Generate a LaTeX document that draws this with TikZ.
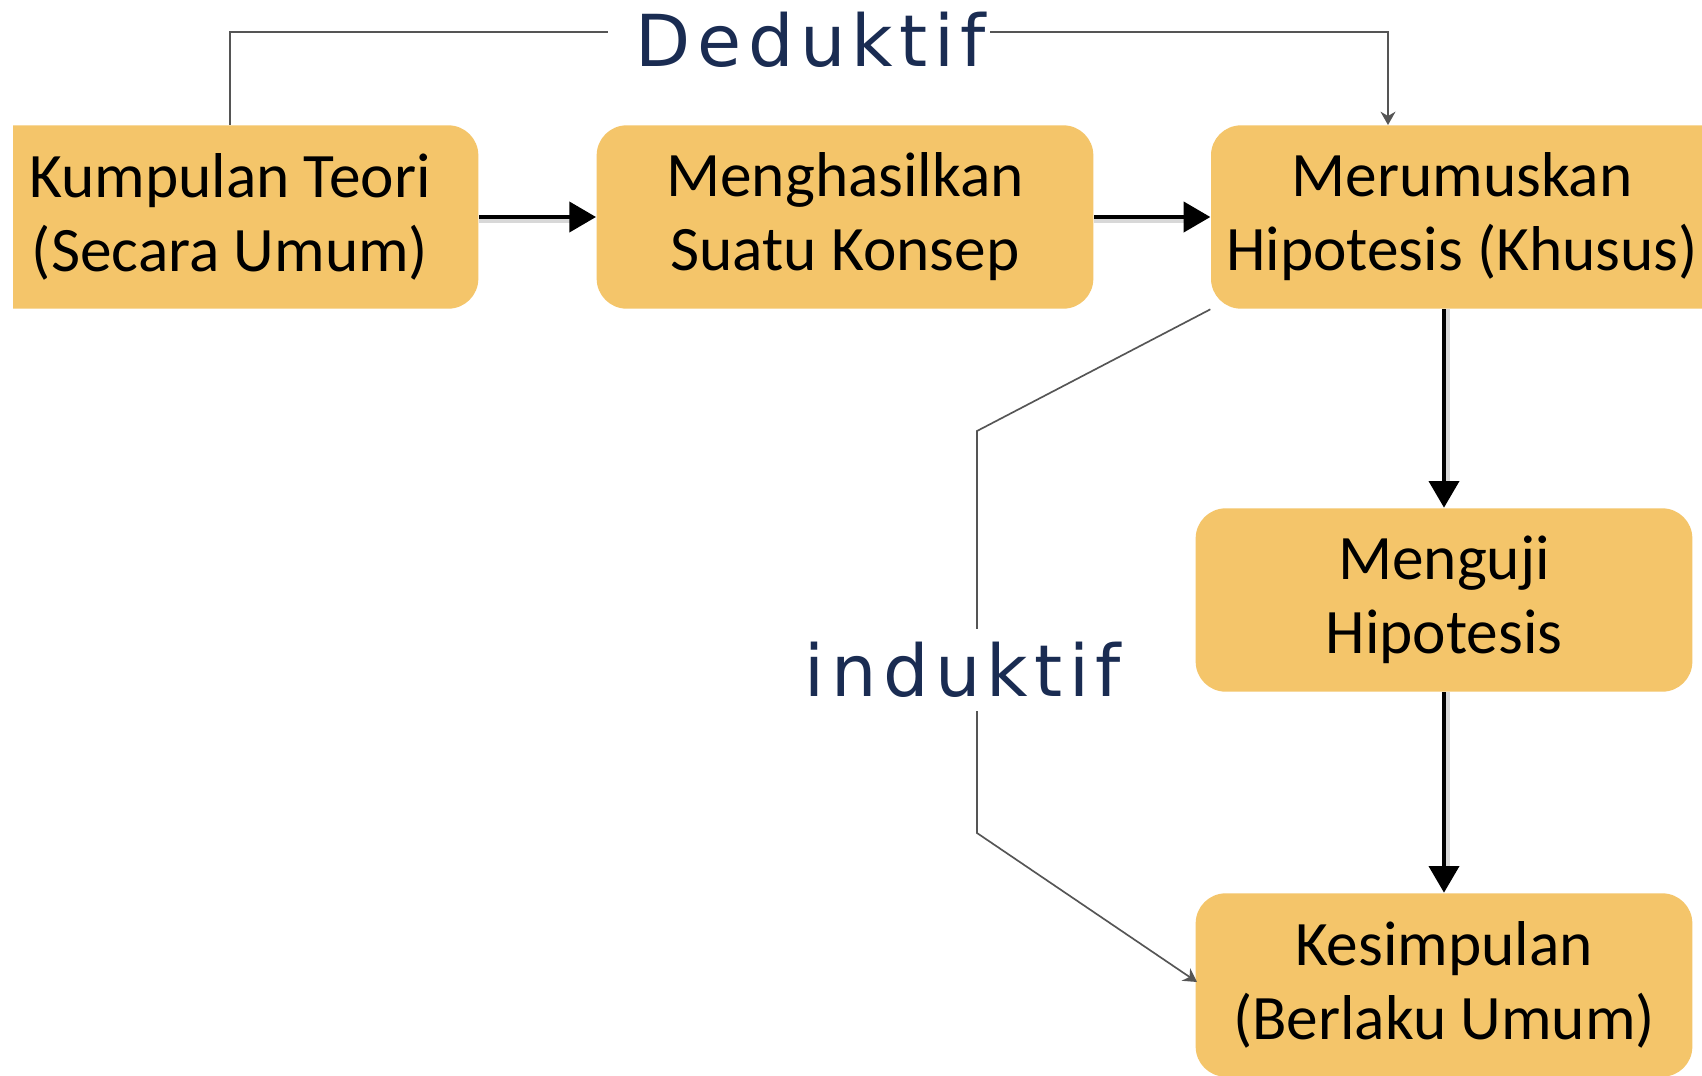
\documentclass[tikz,border=0pt]{standalone}
\usepackage{fontspec}
\usetikzlibrary{arrows.meta}
\newfontfamily\boxfont{Carlito}
\newfontfamily\labfont[LetterSpace=9]{DejaVu Sans}
\definecolor{boxfill}{HTML}{F4C56A}
\definecolor{labcol}{HTML}{1A2C52}
\definecolor{thinline}{HTML}{555555}
\tikzset{
  boxfont/.style={font=\boxfont\fontsize{19}{22.2}\selectfont, text=black},
  stepbox/.style={fill=boxfill, draw=none, rounded corners=9pt,
    minimum width=149pt, minimum height=55pt, align=center,
    boxfont, inner sep=0pt},
  boxtext/.style={align=center, boxfont, inner sep=0pt},
  mainarrow/.style={line width=1.2pt, -{Triangle[length=8pt,width=9pt]}},
  arrowshadow/.style={line width=1.4pt, draw=black!30, opacity=0.5},
  thinarrow/.style={draw=thinline, line width=0.5pt, -{Stealth[length=4pt,width=4.5pt]}},
  labtext/.style={font=\labfont\fontsize{21.5}{24}\selectfont, text=labcol, inner xsep=0pt}
}
\begin{document}
\begin{tikzpicture}[x=0.3pt,y=-0.3pt]
\useasboundingbox (0,0) rectangle (1702,1075);
\clip (0,0) rectangle (1702,1075);
\fill[white] (0,0) rectangle (1702,1075);

\begin{scope}
\clip (13,0) rectangle (1702,1075);
\node[stepbox] (b1) at (230,217) {Kumpulan Teori\\(Secara Umum)};
\end{scope}
\node[stepbox] (b2) at (845,217) {Menghasilkan\\Suatu Konsep};
\node[stepbox, minimum width=168pt] (b3) at (1491,217) {};
\node[boxtext] (b3t) at (1462,217) {Merumuskan\\Hipotesis (Khusus)};
\node[stepbox] (b4) at (1444,600) {Menguji\\Hipotesis};
\node[stepbox] (b5) at (1444,985) {Kesimpulan\\(Berlaku Umum)};

% shadows of thick arrows
\draw[arrowshadow] ([yshift=-1.2pt]b1.east) -- ([xshift=-6pt,yshift=-1.2pt]b2.west);
\draw[arrowshadow] ([yshift=-1.2pt]b2.east) -- ([xshift=-6pt,yshift=-1.2pt]b3.west);
\draw[arrowshadow] ([xshift=1.2pt]b3.south -| b4.north) -- ([xshift=1.2pt,yshift=6pt]b4.north);
\draw[arrowshadow] ([xshift=1.2pt]b4.south) -- ([xshift=1.2pt,yshift=6pt]b5.north);

\draw[mainarrow] (b1.east) -- (b2.west);
\draw[mainarrow] (b2.east) -- (b3.west);
\draw[mainarrow] (b3.south -| b4.north) -- (b4.north);
\draw[mainarrow] (b4.south) -- (b5.north);

% Deduktif
\node[labtext] (ded) at (811,40) {Deduktif};
\coordinate (dedin) at (1388,125);
\coordinate (dedl) at (608,32);
\coordinate (dedr) at (990,32);
\draw[thinline, line width=0.6pt] (b1.north) |- (dedl);
\draw[thinarrow] (dedr) -| (dedin);

% induktif
\coordinate (i1) at (977,431);
\coordinate (i2) at (977,833);
\coordinate (iend) at (1197,982);
\draw[thinarrow] (b3.south west) -- (i1) -- (i2) -- (iend);
\node[labtext, fill=white, inner ysep=4pt] (ind) at (963,670) {induktif};
\end{tikzpicture}
\end{document}
